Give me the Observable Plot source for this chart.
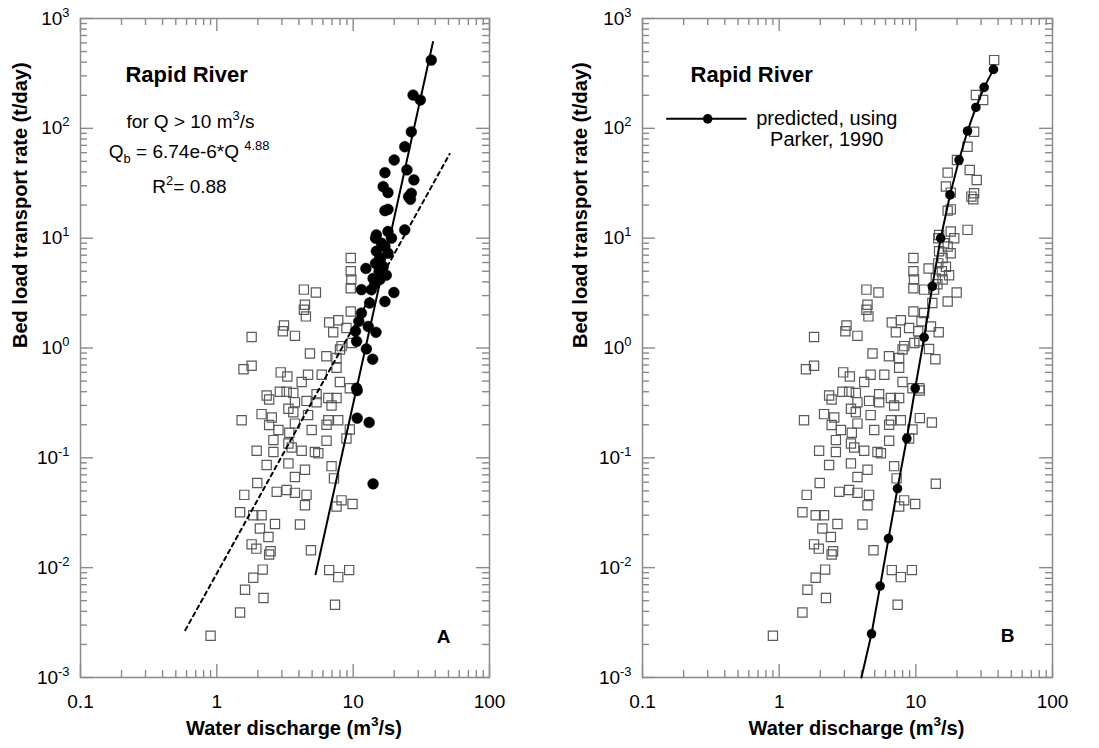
<!DOCTYPE html>
<html><head><meta charset="utf-8">
<script src="https://cdn.jsdelivr.net/npm/d3@7"></script>
<script src="https://cdn.jsdelivr.net/npm/@observablehq/plot@0.6"></script>
<style>
body{margin:0;background:#fff;}
#wrap{position:relative;width:1099px;height:748px;overflow:hidden;background:#fff;}
#wrap svg{position:absolute;top:0;}
</style></head><body><div id="wrap"></div>
<script>
// ---- observed data, Q < 10 m3/s (open squares in A)
const openQ = [9.6,9.6,9.7,9.6,4.35,5.33,4.43,4.35,4.5,9.6,6.67,7.77,7.14,8.93,3.11,3.05,3.74,1.8,8.22,9.75,4.82,6.36,7.55,8.0,7.55,1.8,1.57,2.94,3.29,4.67,5.88,
  4.19,7.99,9.45,2.32,2.42,2.9,3.25,3.64,5.39,6.57,7.55,3.74,4.55,5.39,6.94,3.35,3.64,4.67,2.13,2.53,1.52,6.57,7.77,2.42,2.83,3.74,4.96,6.38,9.45,8.93,3.4,2.6,6.38,3.35,3.54,1.96,2.6,4.19,5.24,5.55,3.35,2.32,4.43,6.94,3.74,7.23,1.98,2.75,3.25,3.74,4.55,1.59,4.43,7.55,8.22,9.89,1.48,1.85,2.13,2.67,4.07,2.07,2.39,1.8,1.95,2.48,2.42,4.9,2.17,1.85,6.67,7.77,9.35,1.61,2.2,7.36,1.48,0.9];
const openQb = [6.6,5.0,4.2,3.5,3.4,3.2,2.48,2.23,1.94,2.15,1.71,1.79,1.39,1.52,1.6,1.42,1.29,1.26,1.04,1.11,0.89,0.84,0.81,0.97,0.66,0.69,0.64,0.6,0.55,0.57,0.57,
  0.49,0.49,0.43,0.37,0.34,0.40,0.40,0.39,0.38,0.35,0.35,0.32,0.33,0.32,0.30,0.28,0.26,0.245,0.25,0.233,0.22,0.22,0.22,0.199,0.179,0.205,0.179,0.2,0.181,0.15,0.169,0.145,0.143,0.135,0.124,0.116,0.113,0.116,0.113,0.11,0.089,0.086,0.078,0.084,0.067,0.065,0.059,0.049,0.051,0.048,0.046,0.046,0.037,0.036,0.041,0.038,0.032,0.030,0.030,0.025,0.0247,0.0227,0.019,0.0163,0.0149,0.0141,0.0132,0.0144,0.0096,0.0081,0.0095,0.0082,0.0095,0.0063,0.0053,0.0046,0.0039,0.0024];
// ---- observed data, Q > 10 m3/s (filled circles in A)
const filledQ = [37.4,27.5,31.1,26.7,23.9,20,17.1,24.8,27.9,16.6,18,26.7,26.3,25.5,17.1,18,23.9,14.8,14.6,18,19.1,16.1,17.1,14.8,18,15.7,14.6,16.6,12.4,15.5,17.5,14.0,15.7,14.4,11.5,19.9,13.6,17.1,13.2,11.5,11.0,12.9,10.4,14.7,10.6,12.5,13.9,10.6,10.7,10.7,13.1,14.0];
const filledQb = [418,201,181,93,68,51.5,39.5,41.8,33.9,29.5,26,25.6,22.6,23.9,17.8,18.3,11.9,10.7,10,11.5,10,9.0,8.4,7.6,7.3,6.6,5.9,5.5,5.3,5.0,4.6,4.3,4.2,3.8,3.4,3.2,3.4,2.65,2.57,2.08,1.75,1.57,1.42,1.39,1.15,0.98,0.79,0.43,0.41,0.23,0.21,0.058];
// ---- fitted lines (A)
const fitQ = [5.3, 38.5], fitQb = [0.0087, 610];          // Q > 10 fit (solid)
const allFitQ = [0.587, 51], allFitQb = [0.0027, 58.4];    // all data fit (dashed)
// ---- predicted, Parker 1990 (B)
const predQ = [4.74,5.48,6.31,7.34,8.59,9.89,11.5,13.2,15.2,17.8,20.7,23.9,27.5,31.6,37.0];
const predQb = [0.0025,0.0068,0.0184,0.0525,0.15,0.43,1.25,3.64,10,24.8,51.5,94.6,155,236,344];
const curveQ = [4.0, ...predQ], curveQb = [0.001, ...predQb];
// ---- axes
const xMajor = [0.1, 1, 10, 100];
const xTickLabels = ["0.1", "1", "10", "100"];
const yMajor = [0.001, 0.01, 0.1, 1, 10, 100, 1000];
const yTickLabels = ["10^{-3}","10^{-2}","10^{-1}","10^{0}","10^{1}","10^{2}","10^{3}"];
const minorSteps = [2,3,4,5,6,7,8,9];
const xMinor = xMajor.slice(0,-1).flatMap(d => minorSteps.map(k => k*d));
const yMinor = yMajor.slice(0,-1).flatMap(d => minorSteps.map(k => k*d));

const pts = (qs, qbs) => qs.map((q,i) => ({q, qb: qbs[i]}));
const FONT = "'Liberation Sans', Arial, Helvetica, sans-serif";
const GREY = "#8a8a8a";
const H = 748, MT = 18, MB = 71;

function panel(width, ml, mr, extra, ytitleDx) {
  const fw = width - ml - mr, fh = H - MT - MB;
  const MAJ = 13, MIN = 7;
  const tick = {stroke: GREY, strokeWidth: 1.4};
  return Plot.plot({
    width, height: H, marginLeft: ml, marginRight: mr, marginTop: MT, marginBottom: MB,
    x: {type: "log", domain: [0.1, 100], axis: null},
    y: {type: "log", domain: [1e-3, 1e3], axis: null},
    style: {fontFamily: FONT, fontSize: "17px", color: "#000", background: "transparent"},
    marks: [
      Plot.ruleX(xMajor, {x: d => d, insetTop: fh - MAJ, ...tick}),
      Plot.ruleX(xMajor, {x: d => d, insetBottom: fh - MAJ, ...tick}),
      Plot.ruleX(xMinor, {x: d => d, insetTop: fh - MIN, ...tick}),
      Plot.ruleX(xMinor, {x: d => d, insetBottom: fh - MIN, ...tick}),
      Plot.ruleY(yMajor, {y: d => d, insetRight: fw - MAJ, ...tick}),
      Plot.ruleY(yMajor, {y: d => d, insetLeft: fw - MAJ, ...tick}),
      Plot.ruleY(yMinor, {y: d => d, insetRight: fw - MIN, ...tick}),
      Plot.ruleY(yMinor, {y: d => d, insetLeft: fw - MIN, ...tick}),
      Plot.frame({stroke: GREY, strokeWidth: 1.5}),
      Plot.text(xMajor, {x: d => d, frameAnchor: "bottom", dy: 30, text: (d,i) => xTickLabels[i], fontSize: 19, fill: "#000"}),
      Plot.text(yMajor, {y: d => d, frameAnchor: "left", dx: -11, textAnchor: "end", text: (d,i) => yTickLabels[i], fontSize: 19, fill: "#000"}),
      Plot.text(["Water discharge (m^{3}/s)"], {frameAnchor: "bottom", dx: 9, dy: 57, fontSize: 20, fontWeight: "bold", fill: "#000"}),
      Plot.text(["Bed load transport rate (t/day)"], {frameAnchor: "left", rotate: -90, dx: ytitleDx, fontSize: 20, fontWeight: "bold", fill: "#000"}),
      ...extra
    ]
  });
}

const openPts = pts(openQ, openQb), filledPts = pts(filledQ, filledQb);
const sq = {x: "q", y: "qb", symbol: "square", r: 5.2, stroke: "#5a5a5a", strokeWidth: 1.2, fill: "none"};

const A = panel(549, 80, 60, [
  Plot.dot(openPts, sq),
  Plot.line(pts(allFitQ, allFitQb), {x: "q", y: "qb", stroke: "#000", strokeWidth: 2, strokeDasharray: "4,4"}),
  Plot.line(pts(fitQ, fitQb), {x: "q", y: "qb", stroke: "#000", strokeWidth: 2}),
  Plot.dot(filledPts, {x: "q", y: "qb", r: 5.4, fill: "#000", stroke: "#000", strokeWidth: 0.5}),
  Plot.text(["Rapid River"], {x: 0.6, y: 306, fontSize: 22, fontWeight: "bold", fill: "#000"}),
  Plot.text(["for Q > 10 m^{3}/s"], {x: 0.64, y: 114, fontSize: 19, fill: "#000"}),
  Plot.text(["Q_{b} = 6.74e-6*Q ^{4.88}"], {x: 0.626, y: 61, fontSize: 19, fill: "#000"}),
  Plot.text(["R^{2}= 0.88"], {x: 0.63, y: 29.3, fontSize: 19, fill: "#000"}),
  Plot.text(["A"], {x: 46, y: 0.00233, fontSize: 19, fontWeight: "bold", fill: "#000"})
], -60);

const B = panel(549, 92, 47, [
  Plot.dot([...openPts, ...filledPts], sq),
  Plot.line(pts(curveQ, curveQb), {x: "q", y: "qb", stroke: "#000", strokeWidth: 2}),
  Plot.dot(pts(predQ, predQb), {x: "q", y: "qb", r: 4.8, fill: "#000"}),
  Plot.line([{q: 0.151, qb: 122}, {q: 0.57, qb: 122}], {x: "q", y: "qb", stroke: "#000", strokeWidth: 2}),
  Plot.dot([{q: 0.30, qb: 122}], {x: "q", y: "qb", r: 4.8, fill: "#000"}),
  Plot.text(["predicted, using"], {x: 2.23, y: 121.8, fontSize: 20, fill: "#000"}),
  Plot.text(["Parker, 1990"], {x: 2.23, y: 78.4, fontSize: 20, fill: "#000"}),
  Plot.text(["Rapid River"], {x: 0.63, y: 306, fontSize: 22, fontWeight: "bold", fill: "#000"}),
  Plot.text(["B"], {x: 46.9, y: 0.0024, fontSize: 19, fontWeight: "bold", fill: "#000"})
], -62);

const wrap = document.getElementById("wrap");
A.style.left = "0px"; B.style.left = "550px";
wrap.appendChild(A); wrap.appendChild(B);

// rich text: ^{...} superscript, _{...} subscript
function richText(root) {
  root.querySelectorAll("text").forEach(t => {
    const s = t.textContent;
    if (!/[\^_]\{/.test(s)) return;
    const fs = parseFloat(getComputedStyle(t).fontSize) || 18;
    t.textContent = "";
    const re = /([\^_])\{([^}]*)\}/g;
    let last = 0, m, shift = 0;
    const add = (str, kind) => {
      if (!str) return;
      const ts = document.createElementNS("http://www.w3.org/2000/svg", "tspan");
      const target = kind === "^" ? -0.42 * fs : kind === "_" ? 0.28 * fs : 0;
      const dy = target - shift;
      if (dy) ts.setAttribute("dy", dy.toFixed(2));
      if (kind) ts.setAttribute("font-size", (0.68 * fs).toFixed(1));
      shift = target;
      ts.textContent = str;
      t.appendChild(ts);
    };
    while ((m = re.exec(s))) { add(s.slice(last, m.index), null); add(m[2], m[1]); last = re.lastIndex; }
    add(s.slice(last), null);
  });
}
richText(A); richText(B);
</script></body></html>
